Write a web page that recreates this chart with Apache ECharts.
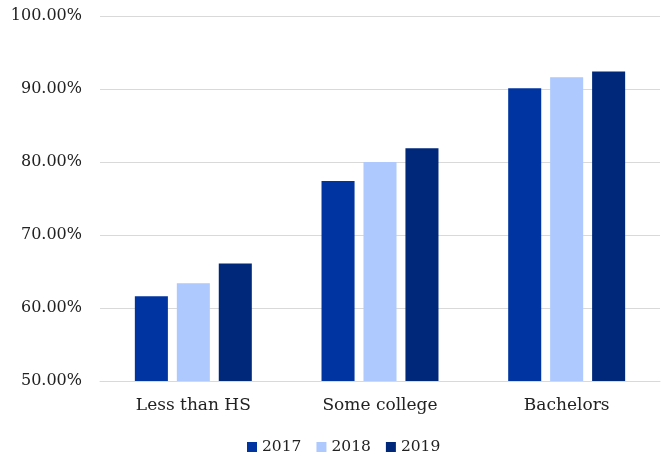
<!DOCTYPE html>
<html>
<head>
<meta charset="utf-8">
<script src="https://cdn.jsdelivr.net/npm/echarts@6/dist/echarts.min.js"></script>
<style>
  html, body { margin: 0; padding: 0; background: #ffffff; }
  #chart { width: 663px; height: 456px; }
</style>
</head>
<body>
<div id="chart"></div>
<script>
// Share of adults by education level, 2017-2019 (percent)
const categories = ['Less than HS', 'Some college', 'Bachelors'];
const years = ['2017', '2018', '2019'];
const values2017 = [61.6, 77.4, 90.1];
const values2018 = [63.4, 80.0, 91.6];
const values2019 = [66.1, 81.9, 92.4];
const yTicks = { min: 50, max: 100, step: 10 };
const colors = ['#0035a1', '#adc9fd', '#00287a'];

const fontFamily = '"DejaVu Serif", "Liberation Serif", serif';
const seriesValues = [values2017, values2018, values2019];

const chart = echarts.init(document.getElementById('chart'));
chart.setOption({
  animation: false,
  textStyle: { fontFamily: fontFamily },
  grid: { left: 100, right: 3, top: 16, bottom: 75, containLabel: false },
  legend: {
    bottom: -4,
    left: 242,
    itemWidth: 10,
    itemHeight: 10,
    itemGap: 15,
    icon: 'rect',
    textStyle: { fontFamily: fontFamily, fontSize: 15.5, color: '#222' },
    data: years
  },
  xAxis: {
    type: 'category',
    data: categories,
    axisLine: { show: true, lineStyle: { color: '#d9d9d9' } },
    axisTick: { show: false },
    axisLabel: { fontFamily: fontFamily, fontSize: 17, color: '#222', margin: 16 }
  },
  yAxis: {
    type: 'value',
    min: yTicks.min,
    max: yTicks.max,
    interval: yTicks.step,
    axisLine: { show: false },
    axisTick: { show: false },
    splitLine: { lineStyle: { color: '#d9d9d9', width: 1 } },
    axisLabel: {
      fontFamily: fontFamily,
      fontSize: 16,
      color: '#222',
      margin: 18,
      formatter: v => v.toFixed(2) + '%'
    }
  },
  series: years.map((y, i) => ({
    name: y,
    type: 'bar',
    data: seriesValues[i],
    barWidth: '17.7%',
    barGap: '27%',
    itemStyle: { color: colors[i] }
  }))
});
</script>
</body>
</html>
